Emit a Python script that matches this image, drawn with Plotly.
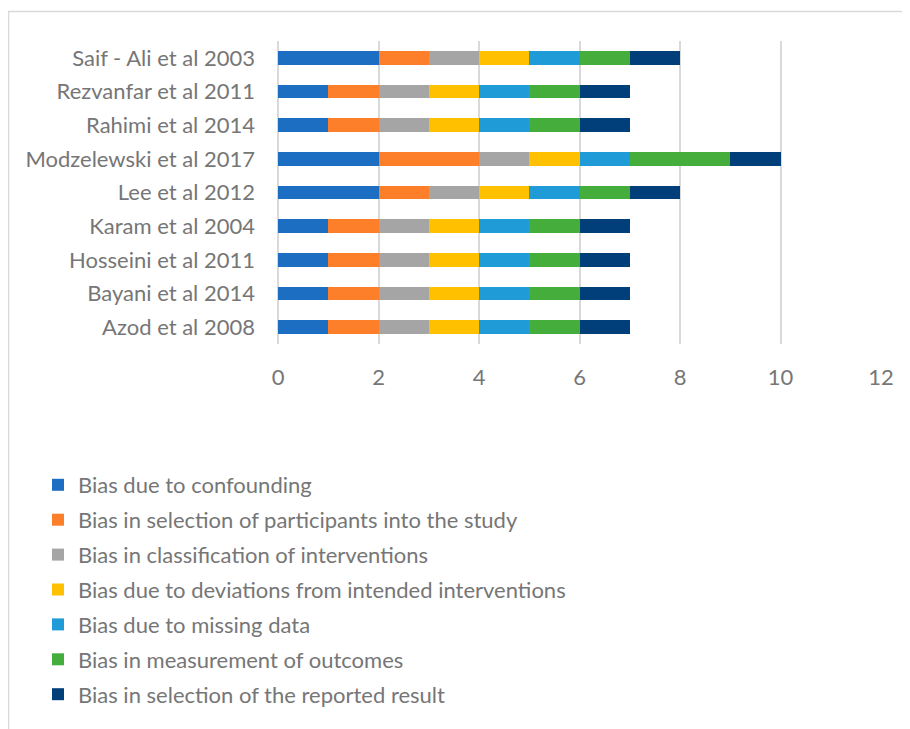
import plotly.graph_objects as go

studies = ["Azod et al 2008", "Bayani et al 2014", "Hosseini et al 2011", "Karam et al 2004",
           "Lee et al 2012", "Modzelewski et al 2017", "Rahimi et al 2014",
           "Rezvanfar et al 2011", "Saif - Ali et al 2003"]

series_names = ["Bias due to confounding",
                "Bias in selection of participants into the study",
                "Bias in classification of interventions",
                "Bias due to deviations from intended interventions",
                "Bias due to missing data",
                "Bias in measurement of outcomes",
                "Bias in selection of the reported result"]

confounding = [1, 1, 1, 1, 2, 2, 1, 1, 2]
selection_participants = [1, 1, 1, 1, 1, 2, 1, 1, 1]
classification = [1, 1, 1, 1, 1, 1, 1, 1, 1]
deviations = [1, 1, 1, 1, 1, 1, 1, 1, 1]
missing_data = [1, 1, 1, 1, 1, 1, 1, 1, 1]
measurement = [1, 1, 1, 1, 1, 2, 1, 1, 1]
reported_result = [1, 1, 1, 1, 1, 1, 1, 1, 1]

series_values = [confounding, selection_participants, classification, deviations,
                 missing_data, measurement, reported_result]
colors = ["#1B6EC2", "#FE7F2A", "#A5A5A5", "#FFC000", "#1F9BD7", "#45AD3C", "#003F7A"]

x_ticks = [0, 2, 4, 6, 8, 10, 12]

FONT = "Lato"
GRAY = "#767676"
FS = 22

fig = go.Figure()
for i, (name, vals, col) in enumerate(zip(series_names, series_values, colors)):
    fig.add_trace(go.Bar(
        y=studies, x=vals, name=name, orientation="h",
        marker=dict(color=col, line=dict(width=0)),
        width=0.4, legendgroup=f"g{i}"))

# page has an 8px body margin; the figure is placed at (8, 8)
OFF = 8
W, H = 910 - OFF, 729 - OFF
L, R, T, B = 278 - OFF, 29, 41 - OFF, 385
pw, ph = W - L - R, H - T - B

def px_x(x):
    return (x - OFF - L) / pw

def px_y(y):
    return (ph - (y - OFF - T)) / ph

fig.update_layout(
    width=W, height=H,
    barmode="stack",
    margin=dict(l=L, r=R, t=T, b=B, pad=0),
    paper_bgcolor="white", plot_bgcolor="white",
    font=dict(family=FONT, size=FS, color=GRAY),
    showlegend=True,
    legend=dict(orientation="v", x=px_x(38), xanchor="left",
                y=px_y(464), yanchor="top",
                traceorder="grouped", tracegroupgap=3.3,
                font=dict(family=FONT, size=FS, color=GRAY),
                bgcolor="rgba(0,0,0,0)"),
    xaxis=dict(range=[0, 12], tickvals=x_ticks, ticktext=[str(v) for v in x_ticks],
               showgrid=True, gridcolor="#D9D9D9", gridwidth=1.5,
               zeroline=True, zerolinecolor="#D9D9D9", zerolinewidth=1.5,
               showline=False, ticks="", ticklabelstandoff=18,
               tickfont=dict(family=FONT, size=FS, color=GRAY), fixedrange=True),
    yaxis=dict(categoryorder="array", categoryarray=studies,
               showgrid=False, zeroline=False, showline=False, ticks="",
               ticklabelstandoff=22,
               tickfont=dict(family=FONT, size=FS, color=GRAY), fixedrange=True),
    shapes=[dict(type="rect", xref="paper", yref="paper",
                 x0=px_x(8.5), x1=px_x(940),
                 y0=px_y(760), y1=px_y(11.5),
                 line=dict(color="#D9D9D9", width=1.5), fillcolor="rgba(0,0,0,0)",
                 layer="below")],
)

fig.write_html("out.html")
